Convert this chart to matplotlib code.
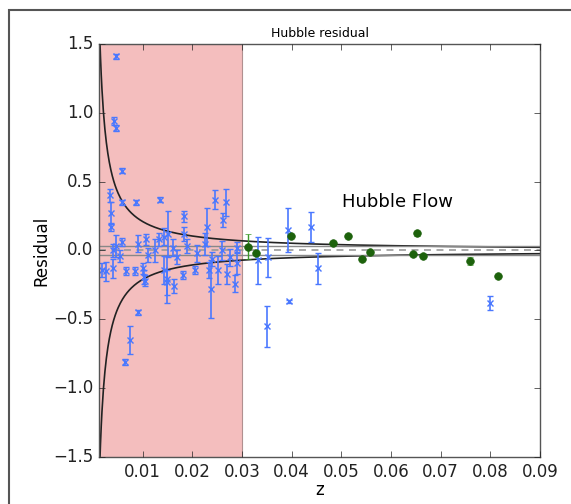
import numpy as np
import matplotlib
matplotlib.use("Agg")
import matplotlib.pyplot as plt
from matplotlib.patches import Rectangle

# -------------------------
# nearby SNe (blue crosses)
# -------------------------
blue_z = [0.0047, 0.0042, 0.0047, 0.0059, 0.0035, 0.0036, 0.0036, 0.0058,
          0.0087, 0.0134, 0.0183, 0.0246, 0.0268, 0.0261, 0.0229, 0.0150,
          0.0183, 0.0106, 0.0132, 0.0143, 0.0046, 0.0058,
          0.0018, 0.0026, 0.0041, 0.0066, 0.0084, 0.0100, 0.0103, 0.0104,
          0.0142, 0.0148, 0.0149, 0.0164, 0.0181, 0.0205, 0.0234, 0.0238,
          0.0252, 0.0270, 0.0286, 0.0289, 0.0075, 0.0065, 0.0091,
          0.0040, 0.0055, 0.0090, 0.0110, 0.0125, 0.0160, 0.0170, 0.0190,
          0.0210, 0.0225, 0.0240, 0.0260, 0.0275, 0.0290,
          0.0333, 0.0350, 0.0353, 0.0392, 0.0395, 0.0438, 0.0452, 0.0800]
blue_res = [1.41, 0.94, 0.89, 0.58, 0.40, 0.27, 0.17, 0.35,
            0.35, 0.37, 0.25, 0.37, 0.35, 0.22, 0.17, 0.12,
            0.12, 0.08, 0.08, 0.10, 0.03, 0.06,
            -0.14, -0.15, -0.13, -0.15, -0.15, -0.13, -0.19, -0.22,
            -0.14, -0.21, -0.23, -0.26, -0.18, -0.14, -0.14, -0.28,
            -0.14, -0.17, -0.24, -0.09, -0.65, -0.81, -0.45,
            0.00, -0.04, 0.05, -0.03, 0.00, 0.02, -0.05, 0.03,
            -0.02, 0.05, -0.06, 0.00, -0.05, 0.02,
            -0.07, -0.55, -0.05, 0.15, -0.37, 0.17, -0.13, -0.38]
blue_err = [0.02, 0.03, 0.02, 0.02, 0.05, 0.08, 0.03, 0.02,
            0.02, 0.02, 0.04, 0.07, 0.10, 0.05, 0.14, 0.17,
            0.05, 0.04, 0.05, 0.06, 0.08, 0.03,
            0.05, 0.07, 0.07, 0.03, 0.03, 0.04, 0.05, 0.04,
            0.10, 0.17, 0.09, 0.05, 0.03, 0.03, 0.06, 0.21,
            0.10, 0.07, 0.06, 0.08, 0.10, 0.02, 0.02,
            0.05, 0.04, 0.06, 0.05, 0.08, 0.06, 0.05, 0.05,
            0.06, 0.08, 0.05, 0.07, 0.06, 0.04,
            0.17, 0.15, 0.14, 0.16, 0.01, 0.11, 0.11, 0.05]

# -------------------------
# Hubble flow SNe (green)
# -------------------------
green_z = [0.0313, 0.0328, 0.0398, 0.0483, 0.0514, 0.0652, 0.0541,
           0.0558, 0.0644, 0.0665, 0.0760, 0.0816]
green_res = [0.028, -0.02, 0.106, 0.057, 0.108, 0.125, -0.06,
             -0.013, -0.025, -0.037, -0.076, -0.185]
green_err = [0.09, 0.01, 0.01, 0.01, 0.01, 0.02, 0.01,
             0.01, 0.01, 0.01, 0.03, 0.01]

# peculiar velocity envelope  ~ k / z
k_pec = 0.0021
band = 0.03

plt.style.use("classic")
fig = plt.figure(figsize=(5.71, 5.04), dpi=100)
fig.patch.set_facecolor("white")
ax = fig.add_axes([0.1734, 0.0933, 0.7723, 0.8194])

ax.axvspan(0.0, 0.03, facecolor="#f4bebe", edgecolor="#b09090", lw=0.8)

zz = np.linspace(0.0012, 0.09, 600)
ax.plot(zz, k_pec / zz, color="#222222", lw=1.2)
ax.plot(zz, -k_pec / zz, color="#222222", lw=1.2)
ax.axhline(band, color="#888888", lw=1.0)
ax.axhline(-band, color="#888888", lw=1.0)
ax.axhline(0.0, color="#999999", lw=1.2, ls="--", dashes=(5, 4))

ax.errorbar(blue_z, blue_res, yerr=blue_err, fmt="x", color="#4a78ff",
            ecolor="#4a78ff", ms=4.5, mew=1.0, elinewidth=1.2, capsize=2.5)
ax.errorbar(green_z, green_res, yerr=green_err, fmt="o", color="#1d620c",
            mec="#1d620c", ecolor="#3d9a2a", ms=5.5, elinewidth=1.0, capsize=2.5)

ax.text(0.0501, 0.355, "Hubble Flow", fontsize=13, va="center", ha="left")

ax.set_xlim(0.0012, 0.09)
ax.set_ylim(-1.5, 1.5)
ax.set_xticks([0.01, 0.02, 0.03, 0.04, 0.05, 0.06, 0.07, 0.08, 0.09])
ax.set_xticklabels(["0.01", "0.02", "0.03", "0.04", "0.05", "0.06", "0.07", "0.08", "0.09"])
ax.set_yticks([-1.5, -1.0, -0.5, 0.0, 0.5, 1.0, 1.5])
ax.tick_params(labelsize=12, direction="in", length=4, colors="#222222")
for sp in ax.spines.values():
    sp.set_color("#555555")
ax.set_xlabel("z", fontsize=12, labelpad=0)
ax.set_ylabel("Residual", fontsize=12, labelpad=2)
ax.set_title("Hubble residual", fontsize=9, pad=5)

# outer frame
fig.patches.append(Rectangle((9 / 571, -0.01), 1.0, 1 - 10 / 504 + 0.01,
                             transform=fig.transFigure, fill=False,
                             edgecolor="#555555", lw=1.5))

fig.savefig("out.png", dpi=100, facecolor="white")
